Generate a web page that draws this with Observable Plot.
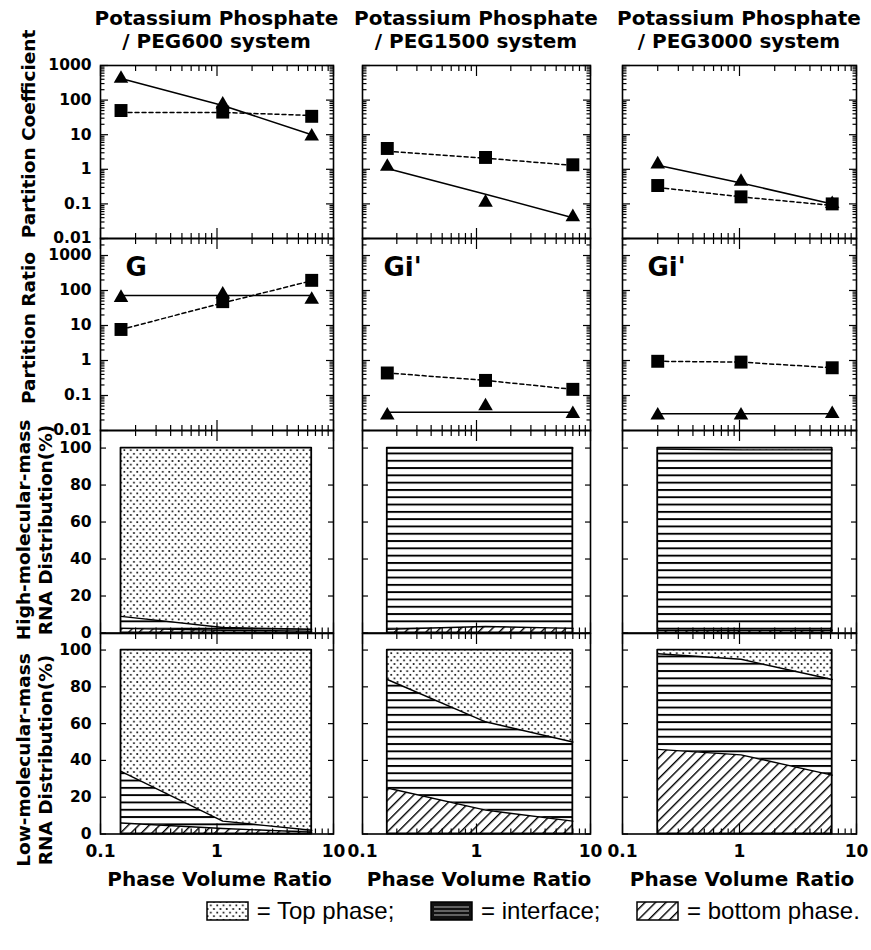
<!DOCTYPE html>
<html><head><meta charset="utf-8">
<script src="https://cdn.jsdelivr.net/npm/d3@7"></script>
<script src="https://cdn.jsdelivr.net/npm/@observablehq/plot@0.6"></script>
<style>
body{margin:0;background:#fff;}
#root{position:relative;width:871px;height:950px;overflow:hidden;font-family:"DejaVu Sans",sans-serif;background:#fff;}
.lbl{position:absolute;font-weight:bold;color:#000;white-space:nowrap;font-family:"DejaVu Sans",sans-serif;}
</style></head><body>
<svg width="0" height="0" style="position:absolute">
<defs>
<pattern id="dots" patternUnits="userSpaceOnUse" width="6.4" height="7.2"><rect width="6.4" height="7.2" fill="#fff"/><circle cx="1.6" cy="1.8" r="1.0" fill="#000"/><circle cx="4.8" cy="5.4" r="1.0" fill="#000"/></pattern>
<pattern id="hlines" patternUnits="userSpaceOnUse" width="10" height="7.3"><rect width="10" height="7.3" fill="#fff"/><rect y="0" width="10" height="1.9" fill="#000"/></pattern>
<pattern id="hatch" patternUnits="userSpaceOnUse" width="7.4" height="7.4" patternTransform="rotate(45)"><rect width="7.4" height="7.4" fill="#fff"/><rect width="1.4" height="7.4" fill="#000"/></pattern>
</defs></svg>
<div id="root"></div>
<script>
// ---------------- data ----------------
const systems = ["PEG600", "PEG1500", "PEG3000"];
const phaseRatio = [[0.15, 1.12, 6.5], [0.165, 1.2, 7.0], [0.2, 1.03, 6.2]];
// row 1: Partition Coefficient (triangles solid, squares dashed)
const coefTri = [[420, 75, 9], [1.2, 0.11, 0.042], [1.4, 0.44, 0.1]];
const coefTriLine = [[420, 70, 10], [1.05, 0.19, 0.04], [1.3, 0.4, 0.1]];
const coefSq = [[50, 45, 34], [4.0, 2.2, 1.35], [0.34, 0.16, 0.1]];
const coefSqLine = [[44, 44, 36], [3.3, 2.1, 1.3], [0.3, 0.16, 0.09]];
// row 2: Partition Ratio
const ratioNames = ["G", "Gi'", "Gi'"];
const ratioTri = [[62, 78, 55], [0.027, 0.05, 0.03], [0.027, 0.027, 0.03]];
const ratioTriLine = [[72, 72, 72], [0.033, 0.033, 0.033], [0.03, 0.03, 0.03]];
const ratioSq = [[7.7, 48, 195], [0.44, 0.27, 0.15], [0.95, 0.9, 0.62]];
const ratioSqLine = [[7.7, 44, 190], [0.44, 0.27, 0.15], [0.95, 0.9, 0.62]];
// row 3: high-molecular-mass RNA distribution (%), cumulative upper edges
const highBottom = [[2.5, 1.5, 1], [2, 3.5, 2.5], [1.5, 1.5, 1.5]];
const highInterface = [[9, 3, 2], [100, 100, 100], [99.5, 99, 99]];
// row 4: low-molecular-mass RNA distribution (%), cumulative upper edges
const lowBottom = [[6, 3, 1], [25, 13, 7], [46, 43, 32]];
const lowInterface = [[34, 7, 2], [84, 61, 50], [98, 95, 84]];
const total = 100;
// ticks
const xMajor = [0.1, 1, 10];
const xMinor = [0.2,0.3,0.4,0.5,0.6,0.7,0.8,0.9,2,3,4,5,6,7,8,9];
const yLogMajor = [0.01, 0.1, 1, 10, 100, 1000];
const yLogMinor = [];
for (const d of [0.01, 0.1, 1, 10, 100, 1000]) for (let k = 2; k <= 9; k++) yLogMinor.push(d * k);
const yLinTicks = [0, 20, 40, 60, 80, 100];
const legendItems = ["Top phase;", "interface;", "bottom phase."];

// ---------------- layout ----------------
const colX = [[100, 333], [362, 590], [622, 856]];
const rowY = [[65, 238], [238, 430], [430, 632.5], [632.5, 833]];
const yDomains = [[0.01, 1000], [0.01, 3060], [0, 109.5], [0, 109]];
const FONT = "DejaVu Sans";
const root = document.getElementById("root");
const idx = [0, 1, 2];

function panel(r, c) {
  const [x0, x1] = colX[c], [y0, y1] = rowY[r];
  const m = {top: 14, right: 14, bottom: r === 3 ? 40 : 14, left: c === 0 ? 70 : 14};
  const isLog = r < 2;
  const xs = phaseRatio[c];
  const X = i => xs[i];
  const marks = [];
  if (r < 2) {
    const tri = r === 0 ? coefTri[c] : ratioTri[c];
    const triL = r === 0 ? coefTriLine[c] : ratioTriLine[c];
    const sq = r === 0 ? coefSq[c] : ratioSq[c];
    const sqL = r === 0 ? coefSqLine[c] : ratioSqLine[c];
    marks.push(
      Plot.line(idx, {x: X, y: i => triL[i], stroke: "black", strokeWidth: 1.5}),
      Plot.line(idx, {x: X, y: i => sqL[i], stroke: "black", strokeWidth: 1.5, strokeDasharray: "4,3"}),
      Plot.dot(idx, {x: X, y: i => tri[i], symbol: "triangle", r: 5.4, fill: "black"}),
      Plot.dot(idx, {x: X, y: i => sq[i], symbol: "square", r: 7.3, fill: "black"})
    );
    if (r === 1) {
      marks.push(Plot.text([ratioNames[c]], {frameAnchor: "top-left", dx: c === 1 ? 21 : 25, dy: 19,
        textAnchor: "start", lineAnchor: "top", fontSize: 26, fontWeight: "bold", fontFamily: FONT, fill: "black"}));
    }
  } else {
    const b = r === 2 ? highBottom[c] : lowBottom[c];
    const f = r === 2 ? highInterface[c] : lowInterface[c];
    marks.push(
      Plot.areaY(idx, {x: X, y1: () => 0, y2: i => b[i], fill: "url(#hatch)", curve: "linear"}),
      Plot.areaY(idx, {x: X, y1: i => b[i], y2: i => f[i], fill: "url(#hlines)", curve: "linear"}),
      Plot.areaY(idx, {x: X, y1: i => f[i], y2: () => total, fill: "url(#dots)", curve: "linear"}),
      Plot.line(idx, {x: X, y: i => b[i], stroke: "black", strokeWidth: 1.4}),
      Plot.line(idx, {x: X, y: i => f[i], stroke: "black", strokeWidth: 1.4}),
      Plot.areaY(idx, {x: X, y1: () => 0, y2: () => total, fill: "none", stroke: "black", strokeWidth: 1.8})
    );
  }
  // axes: inward ticks on all four sides
  const blank = () => "";
  const tk = {stroke: "black", strokeWidth: 1.2, tickFormat: blank, label: null};
  for (const a of ["top", "bottom"]) {
    marks.push(Plot.axisX(xMinor, {...tk, anchor: a, tickSize: -5}));
    marks.push(Plot.axisX(xMajor, {...tk, anchor: a, tickSize: -10}));
  }
  for (const a of ["left", "right"]) {
    if (isLog) {
      marks.push(Plot.axisY(yLogMinor.filter(v => v <= yDomains[r][1]), {...tk, anchor: a, tickSize: -4.5}));
      marks.push(Plot.axisY(yLogMajor, {...tk, anchor: a, tickSize: -8}));
    } else {
      marks.push(Plot.axisY(yLinTicks, {...tk, anchor: a, tickSize: -6}));
    }
  }
  const lab = {tickSize: 0, label: null, fontSize: 15.5, fontWeight: "bold", fontFamily: FONT, fill: "black", tickFormat: d => String(d)};
  if (c === 0) marks.push(Plot.axisY(isLog ? yLogMajor : yLinTicks, {...lab, anchor: "left", tickPadding: 9}));
  if (r === 3) marks.push(Plot.axisX(xMajor, {...lab, anchor: "bottom", tickPadding: 11, fontSize: 17}));
  marks.push(Plot.frame({stroke: "black", strokeWidth: 1.6}));

  const svg = Plot.plot({
    width: (x1 - x0) + m.left + m.right,
    height: (y1 - y0) + m.top + m.bottom,
    marginTop: m.top, marginRight: m.right, marginBottom: m.bottom, marginLeft: m.left,
    x: {type: "log", domain: [0.1, 10]},
    y: isLog ? {type: "log", domain: yDomains[r]} : {type: "linear", domain: yDomains[r]},
    style: {background: "transparent", overflow: "visible", fontFamily: FONT},
    marks
  });
  svg.style.position = "absolute";
  svg.style.left = (x0 - m.left) + "px";
  svg.style.top = (y0 - m.top) + "px";
  root.appendChild(svg);
}
for (let r = 0; r < 4; r++) for (let c = 0; c < 3; c++) panel(r, c);

// ---------------- text ----------------
function label(lines, cx, top, size, lh) {
  const d = document.createElement("div");
  d.className = "lbl";
  d.style.fontSize = size + "px";
  d.style.lineHeight = lh + "px";
  d.style.width = "320px";
  d.style.textAlign = "center";
  d.style.left = (cx - 160) + "px";
  d.style.top = top + "px";
  lines.forEach((t, i) => { if (i) d.appendChild(document.createElement("br")); d.appendChild(document.createTextNode(t)); });
  root.appendChild(d);
  return d;
}
function vlabel(lines, cx, cy, size, lh) {
  const d = document.createElement("div");
  d.className = "lbl";
  d.style.fontSize = size + "px";
  d.style.lineHeight = lh + "px";
  const h = lh * lines.length;
  d.style.width = "300px";
  d.style.height = h + "px";
  d.style.textAlign = "center";
  d.style.left = (cx - 150) + "px";
  d.style.top = (cy - h / 2) + "px";
  d.style.transform = "rotate(-90deg)";
  lines.forEach((t, i) => { if (i) d.appendChild(document.createElement("br")); d.appendChild(document.createTextNode(t)); });
  root.appendChild(d);
}
systems.forEach((s, c) => {
  const cx = (colX[c][0] + colX[c][1]) / 2;
  label(["Potassium Phosphate", "/ " + s + " system"], cx, 7, 20, 23);
  label(["Phase Volume Ratio"], cx + 3, 867, 20, 24);
});
vlabel(["Partition Coefficient"], 29, 134, 18.5, 22);
vlabel(["Partition Ratio"], 29, 328, 18.5, 22);
vlabel(["High-molecular-mass", "RNA Distribution(%)"], 35, 530, 18.5, 22);
vlabel(["Low-molecular-mass", "RNA Distribution(%)"], 35, 760, 18.5, 22);

// legend
const leg = document.createElement("div");
leg.style.cssText = "position:absolute;left:206px;top:897px;display:flex;align-items:center;white-space:pre;font-family:'Liberation Sans',Arial,sans-serif;font-size:24px;color:#000;";
function sw(kind, gap) {
  const ns = "http://www.w3.org/2000/svg";
  const s = document.createElementNS(ns, "svg");
  s.setAttribute("width", 44); s.setAttribute("height", 22);
  s.style.marginLeft = gap + "px";
  const rc = document.createElementNS(ns, "rect");
  rc.setAttribute("x", 1); rc.setAttribute("y", 2); rc.setAttribute("width", 41); rc.setAttribute("height", 18);
  rc.setAttribute("stroke", "#000"); rc.setAttribute("stroke-width", 1.5);
  rc.setAttribute("fill", kind === 0 ? "url(#dots)" : kind === 2 ? "url(#hatch)" : "#111");
  s.appendChild(rc);
  if (kind === 1) {
    for (const yy of [7, 11, 15]) {
      const l = document.createElementNS(ns, "line");
      l.setAttribute("x1", 4); l.setAttribute("x2", 39); l.setAttribute("y1", yy); l.setAttribute("y2", yy);
      l.setAttribute("stroke", "#ddd"); l.setAttribute("stroke-width", 0.8);
      s.appendChild(l);
    }
  }
  return s;
}
function tx(t) { const s = document.createElement("span"); s.textContent = t; return s; }
legendItems.forEach((t, i) => leg.append(sw(i, i ? 36 : 0), tx(" = " + t)));
root.appendChild(leg);
</script>
</body></html>
